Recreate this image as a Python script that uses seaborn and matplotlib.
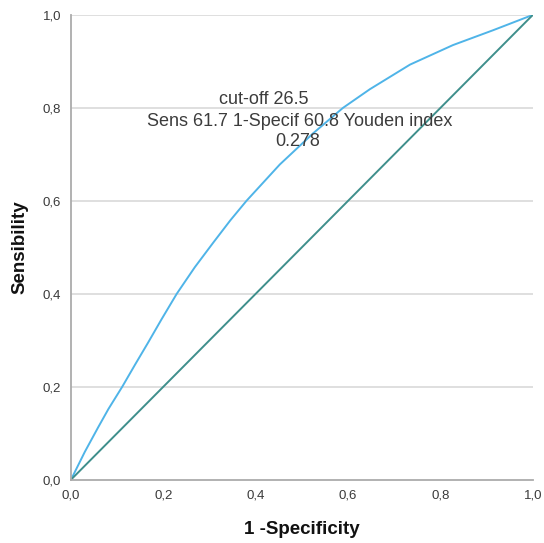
import pandas as pd
import seaborn as sns
import matplotlib.pyplot as plt

# ROC curve
fpr = [0.0, 0.030, 0.059, 0.081, 0.111, 0.139, 0.167, 0.196, 0.229, 0.268, 0.308,
       0.345, 0.380, 0.452, 0.524, 0.589, 0.647, 0.734, 0.827, 0.914, 1.0]
tpr = [0.0, 0.060, 0.113, 0.152, 0.200, 0.248, 0.295, 0.345, 0.400, 0.457, 0.510,
       0.558, 0.600, 0.678, 0.745, 0.800, 0.840, 0.893, 0.935, 0.967, 1.0]
ref_x = [0.0, 1.0]
ref_y = [0.0, 1.0]
ticks = [0.0, 0.2, 0.4, 0.6, 0.8, 1.0]
tick_labels = ['0,0', '0,2', '0,4', '0,6', '0,8', '1,0']
note_lines = ["cut-off 26.5", "Sens 61.7 1-Specif 60.8 Youden index", "0.278"]

sns.set_style("white")
plt.rcParams['font.family'] = ['Liberation Sans', 'DejaVu Sans']

fig = plt.figure(figsize=(5.44, 5.43), dpi=100)
ax = fig.add_axes([0.1305, 0.1166, 0.849, 0.856])

for t in ticks[1:]:
    ax.axhline(t, color='#d6d6d6', lw=1.1, zorder=0)

sns.lineplot(x=fpr, y=tpr, ax=ax, color='#4fb4e8', lw=1.4, sort=False)
sns.lineplot(x=ref_x, y=ref_y, ax=ax, color='#3f8f8c', lw=1.4)

ax.set_xlim(0, 1)
ax.set_ylim(0, 1)
ax.set_xticks(ticks)
ax.set_xticklabels(tick_labels)
ax.set_yticks(ticks)
ax.set_yticklabels(tick_labels)
ax.tick_params(labelsize=9.5, colors='#3a3a3a', length=0, pad=7)
for s in ['top', 'right']:
    ax.spines[s].set_visible(False)
for s in ['left', 'bottom']:
    ax.spines[s].set_color('#ababab')
    ax.spines[s].set_linewidth(1.3)

ax.set_xlabel("1 -Specificity", fontsize=13.5, fontweight='bold', labelpad=14,
              color='#111111')
ax.set_ylabel("Sensibility", fontsize=13.5, fontweight='bold', labelpad=10,
              color='#111111')

for xx, yy, line in zip([0.418, 0.496, 0.491], [0.818, 0.771, 0.728], note_lines):
    ax.text(xx, yy, line, ha='center', va='center', fontsize=13, color='#3c3c3c')

fig.savefig("out.png", dpi=100)
